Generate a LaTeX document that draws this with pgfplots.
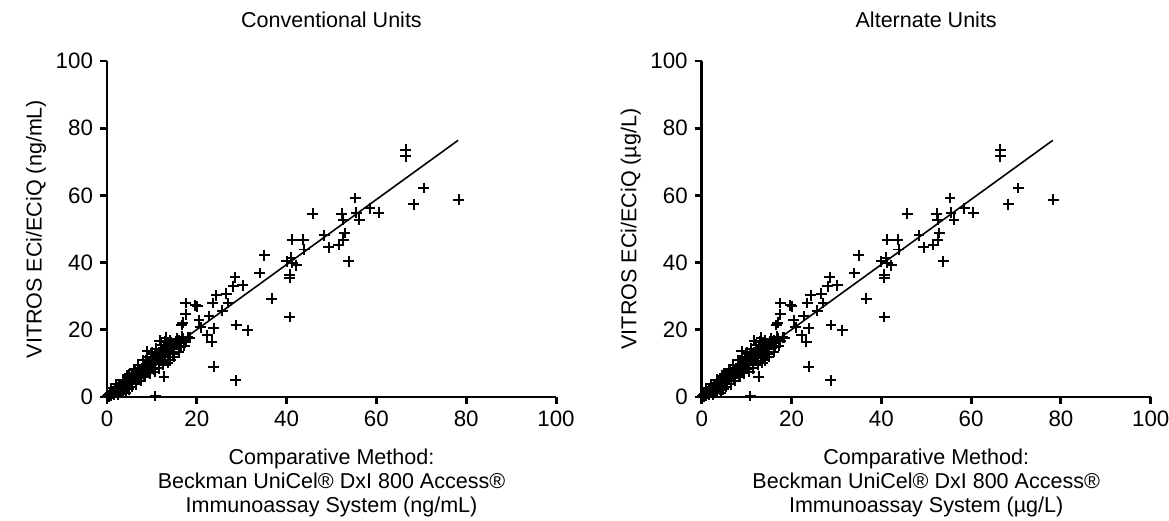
\documentclass[border=0pt]{standalone}
\usepackage{fontspec}
\setmainfont{Liberation Sans}
\usepackage{pgfplots}
\usepackage{pgfplotstable}
\pgfplotsset{compat=1.18}

\pgfplotstableread{
x y
66.5 73.6
66.5 71.6
70.5 62.2
68.3 57.4
78.3 58.7
55.3 59.2
45.8 54.5
52.3 54.5
52.6 52.8
55.5 54.8
56.2 52.8
58.5 56.2
60.5 54.8
48.4 48.1
41.3 46.8
43.7 46.8
43.9 43.9
49.4 44.6
51.6 45.3
52.6 46.8
52.9 48.8
53.8 40.4
35.0 42.2
34.0 36.9
40.0 40.4
41.0 41.4
41.3 39.9
42.2 39.2
40.7 36.4
40.7 35.4
36.7 29.3
40.7 23.8
28.5 35.6
28.1 33.0
30.2 33.3
24.3 30.3
26.6 30.7
27.0 28.0
23.5 28.0
25.7 25.7
17.5 28.0
19.7 27.3
20.1 27.0
17.5 24.6
16.6 21.4
16.9 22.1
20.5 22.8
22.7 24.1
20.9 20.8
23.8 20.4
22.3 18.4
23.3 16.4
28.8 21.4
31.3 19.8
23.8 9.0
28.7 5.0
10.8 0.3
12.7 6.0
10.6 7.5
11.7 16.8
13.2 17.6
8.9 13.7
14.1 10.9
14.4 14.2
15.9 16.4
16.4 14.9
18.4 17.6
14.7 12.7
4.8 2.3
4.2 1.3
0.2 0.3
0.3 0.1
0.4 0.6
0.5 0.2
0.6 0.9
0.7 0.4
0.8 1.2
0.9 0.5
1.0 0.8
1.1 1.5
1.2 0.9
1.3 1.1
1.4 1.8
1.5 1.2
1.6 0.7
1.7 2.0
1.8 1.5
1.9 2.3
2.0 1.7
2.1 2.6
2.2 1.9
2.3 2.4
2.4 1.4
2.5 2.9
2.6 2.2
2.7 3.1
2.8 2.5
2.9 1.8
3.0 3.3
3.1 2.7
3.2 3.6
3.3 3.0
3.4 2.3
3.5 3.9
3.6 3.2
3.7 4.2
3.8 3.5
3.9 2.8
4.0 4.4
4.2 3.8
4.4 4.9
4.5 3.2
4.6 4.3
4.8 5.3
5.0 4.6
5.1 3.9
5.2 5.7
5.4 5.0
5.5 6.2
5.6 4.6
5.8 5.5
6.0 6.6
6.1 5.3
6.3 7.0
6.4 6.0
6.5 4.9
6.7 7.4
6.8 6.4
7.0 7.8
7.1 6.7
7.2 5.6
7.4 8.3
7.5 7.1
7.7 8.6
7.8 7.3
8.0 9.1
8.1 7.6
8.2 6.5
8.4 9.4
8.5 8.0
8.7 9.8
8.8 8.4
9.0 10.3
9.1 8.6
9.2 7.4
9.4 10.6
9.5 9.1
9.7 11.0
9.8 9.4
10.0 11.5
10.2 9.8
10.3 8.6
10.5 12.0
10.6 10.3
10.8 12.4
11.0 10.7
11.2 12.8
11.3 11.0
11.5 9.9
11.6 13.3
11.8 11.6
12.0 13.7
12.1 12.0
12.3 10.8
12.5 14.2
12.6 12.4
12.8 14.6
13.0 12.8
13.2 15.0
13.4 13.3
13.6 11.9
13.8 15.4
14.0 14.0
14.2 15.8
14.4 14.3
14.6 13.0
14.8 16.1
15.0 15.0
15.3 16.4
15.6 15.5
16.0 16.8
16.5 16.0
17.0 17.3
17.5 16.6
18.0 17.8
1.0 2.6
2.0 3.8
3.0 1.2
4.0 2.2
5.0 6.8
5.5 3.0
6.0 8.2
6.5 3.8
7.0 9.6
7.5 4.8
8.0 11.0
8.5 6.0
9.0 12.0
9.5 7.0
10.0 13.4
10.5 8.2
11.0 14.4
11.5 8.5
12.0 15.6
12.5 9.5
13.0 16.4
13.5 10.2
14.0 16.9
15.0 12.0
15.5 17.4
16.0 13.5
16.8 17.9
17.2 15.2
3.5 5.2
4.5 6.3
2.5 0.6
6.2 7.9
8.6 10.9
9.9 12.9
}\points

\pgfplotsset{
  unitplot/.style={
    scale only axis,
    width=224.5bp, height=168bp,
    xmin=0, xmax=100, ymin=0, ymax=100,
    xtick={0,20,...,100}, ytick={0,20,...,100},
    axis x line*=bottom, axis y line*=left,
    axis line style={-, line width=1.5pt},
    tick style={line width=1.5pt, black},
    major tick length=3.5bp,
    tick align=outside,
    clip=false,
    font=\fontsize{10.8}{12.2}\selectfont,
    ticklabel style={font=\fontsize{11.2}{13}\selectfont},
    /pgf/number format/assume math mode=true,
    xlabel style={align=center, yshift=-4bp},
    ylabel style={yshift=-2bp},
    title style={yshift=7bp},
  },
  pts/.style={only marks, mark=+, mark size=2.7bp, line width=1pt, black},
}

\begin{document}
\begin{tikzpicture}
\useasboundingbox (-53.5bp,-62bp) rectangle (531bp,198.5bp);
\begin{axis}[unitplot, at={(0,0)}, anchor=south west,
  title={Conventional Units},
  ylabel={VITROS ECi/ECiQ (ng/mL)},
  xlabel={Comparative Method:\\Beckman UniCel® DxI 800 Access®\\Immunoassay System (ng/mL)}]
\addplot[pts] table {\points};
\addplot[black, line width=0.8pt] coordinates {(0.2,0.9) (78.2,76.4)};
\end{axis}
\begin{axis}[unitplot, at={(297.35bp,0)}, anchor=south west,
  title={Alternate Units},
  ylabel={VITROS ECi/ECiQ (µg/L)},
  xlabel={Comparative Method:\\Beckman UniCel® DxI 800 Access®\\Immunoassay System (µg/L)}]
\addplot[pts] table {\points};
\addplot[black, line width=0.8pt] coordinates {(0.2,0.9) (78.2,76.4)};
\end{axis}
\end{tikzpicture}
\end{document}
